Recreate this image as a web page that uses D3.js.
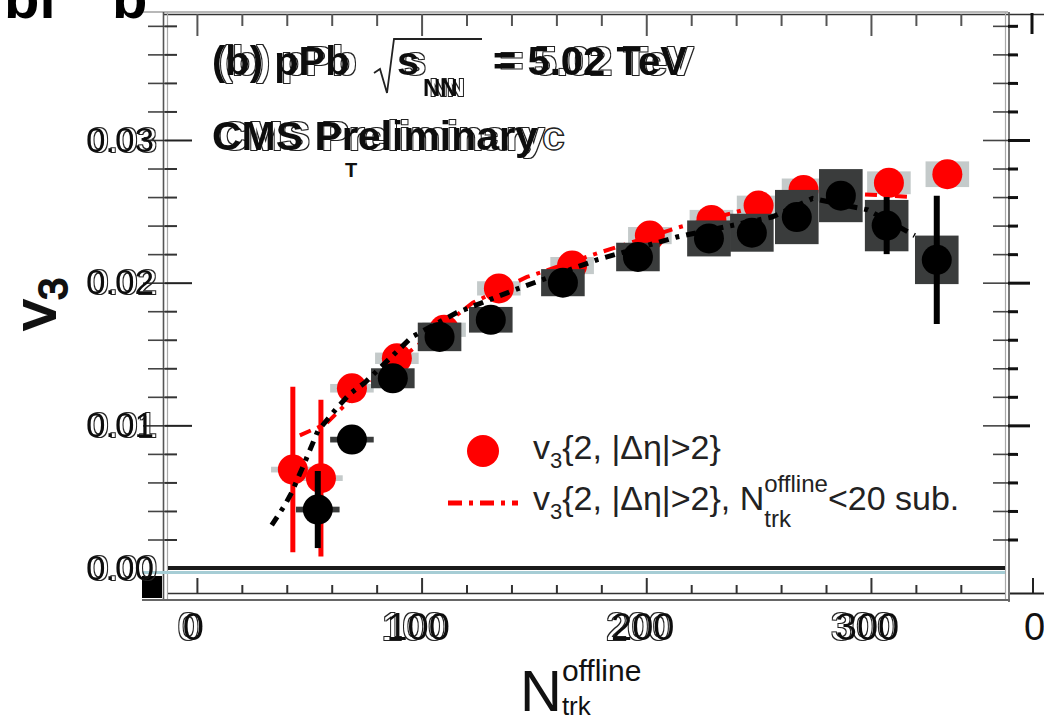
<!DOCTYPE html>
<html>
<head>
<meta charset="utf-8">
<script src="https://cdn.jsdelivr.net/npm/d3@7"></script>
<style>
  html, body { margin: 0; padding: 0; background: #fff; }
  svg { display: block; font-family: "Liberation Sans", Arial, Helvetica, sans-serif; }
</style>
</head>
<body>
<svg id="chart" width="1044" height="724"></svg>
<script>
// v3{2, |Δη|>2} (red markers)
const redN    = [42.7, 55.2, 69, 89, 110, 134.4, 167, 201.6, 229, 250, 270, 308, 334];
const redV    = [0.0069, 0.0063, 0.0126, 0.0147, 0.0167, 0.0196, 0.0212, 0.0233, 0.0244, 0.0254, 0.0265, 0.0270, 0.0276];
const redStat = [0.0058, 0.0055, 0.0003, 0.0003, 0.0003, 0.0003, 0.0003, 0.0003, 0.0003, 0.0003, 0.0003, 0.0003, 0.0003];
const redSys  = [0.0002, 0.0002, 0.0003, 0.0004, 0.0005, 0.0005, 0.0006, 0.0006, 0.0007, 0.0007, 0.0008, 0.0008, 0.0009];

// second measurement (black markers, dark systematic boxes)
const blackN    = [53.8, 69, 87.2, 108, 130.8, 162.9, 196.3, 227.9, 247, 267, 286.6, 307, 329.3];
const blackV    = [0.0041, 0.0090, 0.0133, 0.0162, 0.0174, 0.0200, 0.0218, 0.0231, 0.0235, 0.0246, 0.0261, 0.0240, 0.0216];
const blackStat = [0.0027, 0.0003, 0.0003, 0.0003, 0.0003, 0.0003, 0.0003, 0.0003, 0.0003, 0.0003, 0.0003, 0.0020, 0.0045];
const blackSys  = [0.0002, 0.0002, 0.0007, 0.0010, 0.0009, 0.00095, 0.0010, 0.00126, 0.00133, 0.0019, 0.00186, 0.0018, 0.0017];

// N_trk^offline < 20 subtracted curves (dash-dot)
const redSubN   = [45.8, 57.4, 69, 90, 122.8, 146.9, 179, 215, 250.6, 272.8, 318.7];
const redSubV   = [0.0093, 0.0101, 0.0119, 0.0146, 0.0186, 0.0204, 0.0221, 0.0239, 0.0254, 0.0264, 0.0260];
const blackSubN = [33.3, 39.1, 42.2, 48, 53.8, 62.2, 68, 74.8, 95.7, 115.7, 141.5, 178, 213.6, 256, 274, 298.6, 319.5];
const blackSubV = [0.0030, 0.0044, 0.0053, 0.0074, 0.0096, 0.0112, 0.0122, 0.0130, 0.0162, 0.0179, 0.0195, 0.0216, 0.0232, 0.0246, 0.0259, 0.0251, 0.0233];

// axis ticks
const xMajor = [0, 100, 200, 300];
const xMinor = [20, 40, 60, 80, 120, 140, 160, 180, 220, 240, 260, 280, 320, 340];
const yMajor = [0, 0.01, 0.02, 0.03];
const yMinor = [0.002, 0.004, 0.006, 0.008, 0.012, 0.014, 0.016, 0.018, 0.022, 0.024, 0.026, 0.028, 0.032, 0.034, 0.036, 0.038];
const xTickLabels = ["0", "100", "200", "300"];
const yTickLabels = ["0.00", "0.01", "0.02", "0.03"];

const svg = d3.select("#chart");
const x = d3.scaleLinear().domain([-14.2, 361]).range([165, 1008]);
const y = d3.scaleLinear().domain([-0.00224, 0.0389]).range([600, 13]);
const SYS_HALF = 9.7; // half width of systematic boxes, in N units
const R = 15;

// ---------- doubled-outline filters for the lettering ----------
const defs = svg.append("defs");
function ghostFilter(id, dx, dy) {
  const f = defs.append("filter").attr("id", id)
    .attr("x", "-60%").attr("y", "-40%").attr("width", "220%").attr("height", "180%");
  f.append("feOffset").attr("in", "SourceAlpha").attr("dx", dx).attr("dy", dy || 0).attr("result", "off");
  f.append("feMorphology").attr("in", "off").attr("operator", "dilate").attr("radius", 1).attr("result", "dil");
  f.append("feComposite").attr("in", "dil").attr("in2", "off").attr("operator", "out").attr("result", "ring");
  f.append("feFlood").attr("flood-color", "#222").attr("result", "ink");
  f.append("feComposite").attr("in", "ink").attr("in2", "ring").attr("operator", "in").attr("result", "ringInk");
  const m = f.append("feMerge");
  m.append("feMergeNode").attr("in", "ringInk");
  m.append("feMergeNode").attr("in", "SourceGraphic");
}
ghostFilter("ghostR", 7);
ghostFilter("ghostL", -5);
ghostFilter("ghostY", 3);

// ---------- frame ----------
const frame = svg.append("g").attr("fill", "none");
frame.append("line").attr("x1", 143).attr("x2", 1008).attr("y1", 12).attr("y2", 12).attr("stroke", "#b8b8b8").attr("stroke-width", 2);
frame.append("line").attr("x1", 163).attr("x2", 1044).attr("y1", 14.5).attr("y2", 14.5).attr("stroke", "#333").attr("stroke-width", 1.6);
frame.append("line").attr("x1", 163.5).attr("x2", 163.5).attr("y1", 12).attr("y2", 600).attr("stroke", "#555").attr("stroke-width", 1.6);
frame.append("line").attr("x1", 167.5).attr("x2", 167.5).attr("y1", 12).attr("y2", 600).attr("stroke", "#aaa").attr("stroke-width", 1.2);
frame.append("line").attr("x1", 1005.5).attr("x2", 1005.5).attr("y1", 12).attr("y2", 600).attr("stroke", "#aaa").attr("stroke-width", 1.2);
frame.append("line").attr("x1", 1009).attr("x2", 1009).attr("y1", 12).attr("y2", 602).attr("stroke", "#555").attr("stroke-width", 1.6);
frame.append("line").attr("x1", 142).attr("x2", 1010).attr("y1", 600).attr("y2", 600).attr("stroke", "#666").attr("stroke-width", 2);
frame.append("line").attr("x1", 168).attr("x2", 1005).attr("y1", 593.5).attr("y2", 593.5).attr("stroke", "#333").attr("stroke-width", 1.6);
// neighbouring panel edge
frame.append("line").attr("x1", 1032).attr("x2", 1032).attr("y1", 13).attr("y2", 34).attr("stroke", "#111").attr("stroke-width", 3);
frame.append("line").attr("x1", 1010).attr("x2", 1044).attr("y1", 593.5).attr("y2", 593.5).attr("stroke", "#222").attr("stroke-width", 2);
frame.append("line").attr("x1", 1033).attr("x2", 1033).attr("y1", 578).attr("y2", 593).attr("stroke", "#222").attr("stroke-width", 2);
svg.append("rect").attr("x", 142).attr("y", 576).attr("width", 20).attr("height", 22).attr("fill", "#000");

// ---------- ticks ----------
function ticks(axisFn, scale, values, size, transform, color, width) {
  const g = svg.append("g").attr("transform", transform)
    .call(axisFn(scale).tickValues(values).tickSize(size).tickFormat(""));
  g.select(".domain").remove();
  g.selectAll(".tick line").attr("stroke", color).attr("stroke-width", width);
  return g;
}
ticks(d3.axisBottom, x, xMajor, -15, "translate(0,593)", "#333", 2);
ticks(d3.axisBottom, x, xMinor, -8, "translate(0,593)", "#333", 2);
ticks(d3.axisTop, x, xMajor, -22, "translate(0,14)", "#555", 2);
ticks(d3.axisTop, x, xMinor, -12, "translate(0,14)", "#555", 2);
ticks(d3.axisRight, y, yMajor.slice(1), 27, "translate(165,0)", "#222", 2);
ticks(d3.axisRight, y, yMinor, 12, "translate(165,0)", "#333", 2);
ticks(d3.axisLeft, y, yMajor.slice(1), 22, "translate(165,0)", "#333", 1.6);
ticks(d3.axisLeft, y, yMinor, 17, "translate(165,0)", "#444", 1.6);
ticks(d3.axisLeft, y, yMajor.slice(1), 25, "translate(1008,0)", "#444", 1.6);
ticks(d3.axisLeft, y, yMinor, 15, "translate(1008,0)", "#444", 1.6);
ticks(d3.axisRight, y, yMajor.slice(1), 22, "translate(1008,0)", "#111", 3);
ticks(d3.axisRight, y, yMinor, 10, "translate(1008,0)", "#111", 3);

// zero line
svg.append("line").attr("x1", 142).attr("x2", 1005).attr("y1", y(0) + 4.5).attr("y2", y(0) + 4.5)
  .attr("stroke", "#a6cdd5").attr("stroke-width", 3);
svg.append("line").attr("x1", 168).attr("x2", 1005).attr("y1", y(0)).attr("y2", y(0))
  .attr("stroke", "#1a1a1a").attr("stroke-width", 4);

// ---------- tick labels ----------
function labels(axisFn, scale, values, texts, pad, transform, size, filterId) {
  const fmt = d => texts[values.indexOf(d)];
  const g = svg.append("g").attr("transform", transform)
    .call(axisFn(scale).tickValues(values).tickSize(0).tickPadding(pad).tickFormat(fmt));
  g.select(".domain").remove();
  g.selectAll("text").attr("font-size", size).attr("font-family", "Liberation Sans, Arial, sans-serif")
    .attr("fill", "#111").attr("filter", `url(#${filterId})`);
}
labels(d3.axisBottom, x, xMajor, xTickLabels, 13, "translate(-4,600)", 38, "ghostL");
labels(d3.axisLeft, y, yMajor, yTickLabels, 11, "translate(165,0)", 35, "ghostY");

// next panel's first label
svg.append("text").attr("x", 1024).attr("y", 640).attr("font-size", 38).attr("fill", "#111").text("0");

// panel letter cut off at the top
svg.append("text").attr("x", 4).attr("y", 18).attr("font-size", 58).attr("font-weight", "bold").attr("fill", "#000").text("bl");
svg.append("text").attr("x", 112).attr("y", 18).attr("font-size", 58).attr("font-weight", "bold").attr("fill", "#000").text("b");

// ---------- data ----------
const red = redN.map((n, i) => ({ n, v: redV[i], e: redStat[i], s: redSys[i] }));
const black = blackN.map((n, i) => ({ n, v: blackV[i], e: blackStat[i], s: blackSys[i] }));
const plot = svg.append("g");

plot.selectAll("rect.rsys").data(red).join("rect").attr("class", "rsys")
  .attr("x", d => x(d.n - SYS_HALF)).attr("width", d => x(d.n + SYS_HALF) - x(d.n - SYS_HALF))
  .attr("y", d => y(d.v + d.s)).attr("height", d => y(d.v - d.s) - y(d.v + d.s))
  .attr("fill", "#c4caca");
plot.selectAll("line.rerr").data(red).join("line").attr("class", "rerr")
  .attr("x1", d => x(d.n)).attr("x2", d => x(d.n))
  .attr("y1", d => y(d.v - d.e)).attr("y2", d => y(d.v + d.e))
  .attr("stroke", "#ff0000").attr("stroke-width", 5);
plot.selectAll("circle.rpt").data(red).join("circle").attr("class", "rpt")
  .attr("cx", d => x(d.n)).attr("cy", d => y(d.v)).attr("r", R).attr("fill", "#ff0000");

const line = d3.line().x(d => x(d[0])).y(d => y(d[1]));
plot.append("path").datum(redSubN.map((n, i) => [n, redSubV[i]])).attr("d", line)
  .attr("fill", "none").attr("stroke", "#ff0000").attr("stroke-width", 4).attr("stroke-dasharray", "12,7,4,7");

plot.selectAll("rect.bsys").data(black).join("rect").attr("class", "bsys")
  .attr("x", d => x(d.n - SYS_HALF)).attr("width", d => x(d.n + SYS_HALF) - x(d.n - SYS_HALF))
  .attr("y", d => y(d.v + d.s)).attr("height", d => y(d.v - d.s) - y(d.v + d.s))
  .attr("fill", "#3a3c3c");
plot.append("path").datum(blackSubN.map((n, i) => [n, blackSubV[i]])).attr("d", line)
  .attr("fill", "none").attr("stroke", "#000").attr("stroke-width", 5).attr("stroke-dasharray", "10,7,4,7");
plot.selectAll("line.berr").data(black).join("line").attr("class", "berr")
  .attr("x1", d => x(d.n)).attr("x2", d => x(d.n))
  .attr("y1", d => y(d.v - d.e)).attr("y2", d => y(d.v + d.e))
  .attr("stroke", "#000").attr("stroke-width", 6);
plot.selectAll("circle.bpt").data(black).join("circle").attr("class", "bpt")
  .attr("cx", d => x(d.n)).attr("cy", d => y(d.v)).attr("r", R).attr("fill", "#000");

// ---------- text helpers ----------
function rich(g, x0, yBase, parts, attrs) {
  let cx = x0, prevStart = x0;
  parts.forEach(p => {
    const start = p.stack ? prevStart : cx;
    const t = g.append("text").attr("x", start).attr("y", yBase + (p.shift || 0))
      .attr("font-size", p.size).text(p.t);
    Object.entries(attrs).forEach(([k, v]) => t.attr(k, v));
    const w = t.node().getComputedTextLength();
    if (p.stack) cx = Math.max(cx, start + w);
    else { prevStart = start; cx = start + w; }
  });
  return g;
}
const mainAttrs = { fill: "#111", "font-weight": "bold" };
const outlineAttrs = { fill: "#fff", stroke: "#222", "stroke-width": 1.4, "font-weight": "bold" };
function doubled(x0, yBase, parts) {
  return rich(svg.append("g").attr("filter", "url(#ghostR)"), x0, yBase, parts, mainAttrs);
}

// header
doubled(212, 75, [{ t: "(b) pPb", size: 40 }]);
svg.append("path").attr("d", "M374,73 L380,69 L387,93 L394,39 L482,39")
  .attr("fill", "none").attr("stroke", "#222").attr("stroke-width", 1.8);
doubled(397, 75, [{ t: "s", size: 40 }]);
doubled(423, 96, [{ t: "NN", size: 24 }]);
doubled(493, 75, [{ t: "= 5.02 TeV", size: 40 }]);
doubled(212, 150, [{ t: "CMS Preliminary", size: 41 }]);
rich(svg.append("g"), 345, 177, [{ t: "T", size: 20 }], mainAttrs);
rich(svg.append("g"), 542, 150, [{ t: "c", size: 41 }], outlineAttrs);

// ---------- legend ----------
svg.append("circle").attr("cx", 483).attr("cy", 451).attr("r", 16).attr("fill", "#ff0000");
svg.append("line").attr("x1", 448).attr("x2", 518).attr("y1", 503).attr("y2", 503)
  .attr("stroke", "#ff0000").attr("stroke-width", 5).attr("stroke-dasharray", "14,7,4,7");
const legAttrs = { fill: "#222" };
rich(svg.append("g"), 533, 459, [
  { t: "v", size: 34 }, { t: "3", size: 22, shift: 9 }, { t: "{2, |Δη|>2}", size: 34 }
], legAttrs);
rich(svg.append("g"), 533, 510, [
  { t: "v", size: 34 }, { t: "3", size: 22, shift: 9 }, { t: "{2, |Δη|>2}, N", size: 34 },
  { t: "offline", size: 24, shift: -18 }, { t: "trk", size: 24, shift: 17, stack: true },
  { t: "<20 sub.", size: 34 }
], legAttrs);

// ---------- axis titles ----------
const titleAttrs = { fill: "#111" };
rich(svg.append("g"), 520, 711, [
  { t: "N", size: 58 }, { t: "offline", size: 30, shift: -30 }, { t: "trk", size: 26, shift: 4, stack: true }
], titleAttrs);
const yt = svg.append("g").attr("transform", "translate(55,330) rotate(-90)");
rich(yt, 0, 0, [{ t: "v", size: 60 }, { t: "3", size: 40, shift: 12 }],
  { fill: "#111", stroke: "#111", "stroke-width": 2 });
</script>
</body>
</html>
